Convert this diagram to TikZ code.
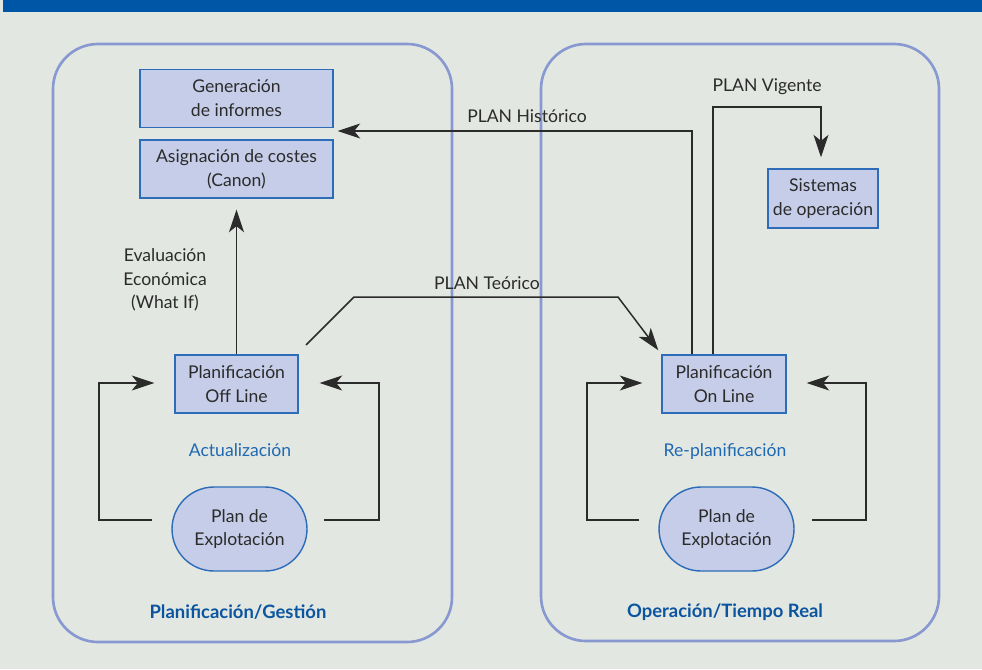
\documentclass[tikz,border=0pt]{standalone}
\usepackage{fontspec}
\setmainfont{Lato}
\usetikzlibrary{arrows.meta,calc}
\definecolor{bgc}{HTML}{E3E7E1}
\definecolor{banner}{HTML}{0056A6}
\definecolor{frame}{HTML}{8898D0}
\definecolor{boxfill}{HTML}{C5CDE8}
\definecolor{boxline}{HTML}{2C6CB8}
\definecolor{bluetxt}{HTML}{1F68B2}
\definecolor{boldblue}{HTML}{0B55A0}
\definecolor{ink}{HTML}{2B2B2B}
\tikzset{
  every node/.style={font=\fontsize{10}{13.5}\selectfont, text=ink},
  frm/.style={draw=frame, line width=1.5pt, rounded corners=0.9cm},
  sbox/.style={draw=boxline, fill=boxfill, line width=0.8pt, align=center, inner sep=0pt},
  stad/.style={draw=boxline, fill=boxfill, line width=0.8pt, align=center, inner sep=0pt,
     rounded corners=0.84cm, minimum width=2.7cm, minimum height=1.68cm},
  conn/.style={draw=ink, line width=0.85pt},
  arr/.style={conn, -{Stealth[length=0.45cm, width=0.3cm, inset=0.12cm]}},
  lbl/.style={align=center},
  bluelbl/.style={text=bluetxt},
  titlelbl/.style={text=boldblue, font=\fontsize{10.5}{13}\selectfont\bfseries}
}
\begin{document}
\begin{tikzpicture}[x=0.02cm, y=-0.02cm]
\useasboundingbox (0,0) rectangle (982,669);
\fill[bgc] (0,0) rectangle (982,669);
\fill[banner] (3,0) rectangle (982,12);
% containers
\draw[frm] (53,44) rectangle (452,642);
\draw[frm] (541,44) rectangle (939,641);
% boxes
\node[sbox, minimum width=3.86cm, minimum height=1.16cm] (gen) at (236.5,98.5) {Generación\\de informes};
\node[sbox, minimum width=3.86cm, minimum height=1.16cm] (asig) at (236.5,169) {Asignación de costes\\(Canon)};
\node[sbox, minimum width=2.2cm, minimum height=1.18cm] (sist) at (823,198.5) {Sistemas\\de operación};
\node[sbox, minimum width=2.46cm, minimum height=1.16cm] (off) at (236.5,384) {Planificación\\Off Line};
\node[sbox, minimum width=2.48cm, minimum height=1.16cm] (on) at (724,384) {Planificación\\On Line};
\node[stad] (pl1) at (239.5,529) {Plan de\\Explotación};
\node[stad] (pl2) at (726.5,529) {Plan de\\Explotación};
% labels
\node[lbl] (eval) at (165,280) {Evaluación\\Económica\\(What If)};
\node (teo) at (487,283) {PLAN Teórico};
\node (his) at (527,116) {PLAN Histórico};
\node (vig) at (767,87) {PLAN Vigente};
\node[bluelbl, anchor=base] (act) at (240,456) {Actualización};
\node[bluelbl, anchor=base] (rep) at (725,456) {Re-planificación};
\node[titlelbl] (t1) at (238,612) {Planificación/Gestión};
\node[titlelbl] (t2) at (725,612) {Operación/Tiempo Real};
% connectors
\draw[arr] (off.north) -- ($(asig.south)+(0,11)$);
\coordinate (teoA) at (306,345);
\draw[arr] (teoA) -- (354,297) -- (618,297) -- ($(on.north west)+(-3,-4)$);
\coordinate (hisA) at ($(on.north)+(-32,0)$);
\draw[arr] (hisA) |- ($(gen.east |- 0,131)+(4,0)$);
\coordinate (vigA) at ($(on.north)+(-11,0)$);
\draw[arr] (vigA) |- (821,107) -- ($(sist.north -| 821,0)+(0,-11)$);
% loops left
\draw[arr] ($(pl1.west)+(-19,-9)$) -| (99,383) -- ($(off.west |- 0,383)+(-20,0)$);
\draw[arr] ($(pl1.east)+(16,-9)$) -| (379,383) -- ($(off.east |- 0,383)+(21,0)$);
% loops right
\draw[arr] ($(pl2.west)+(-19,-9)$) -| (587,383) -- ($(on.west |- 0,383)+(-19,0)$);
\draw[arr] ($(pl2.east)+(17,-9)$) -| (866,383) -- ($(on.east |- 0,383)+(20,0)$);
\end{tikzpicture}
\end{document}
